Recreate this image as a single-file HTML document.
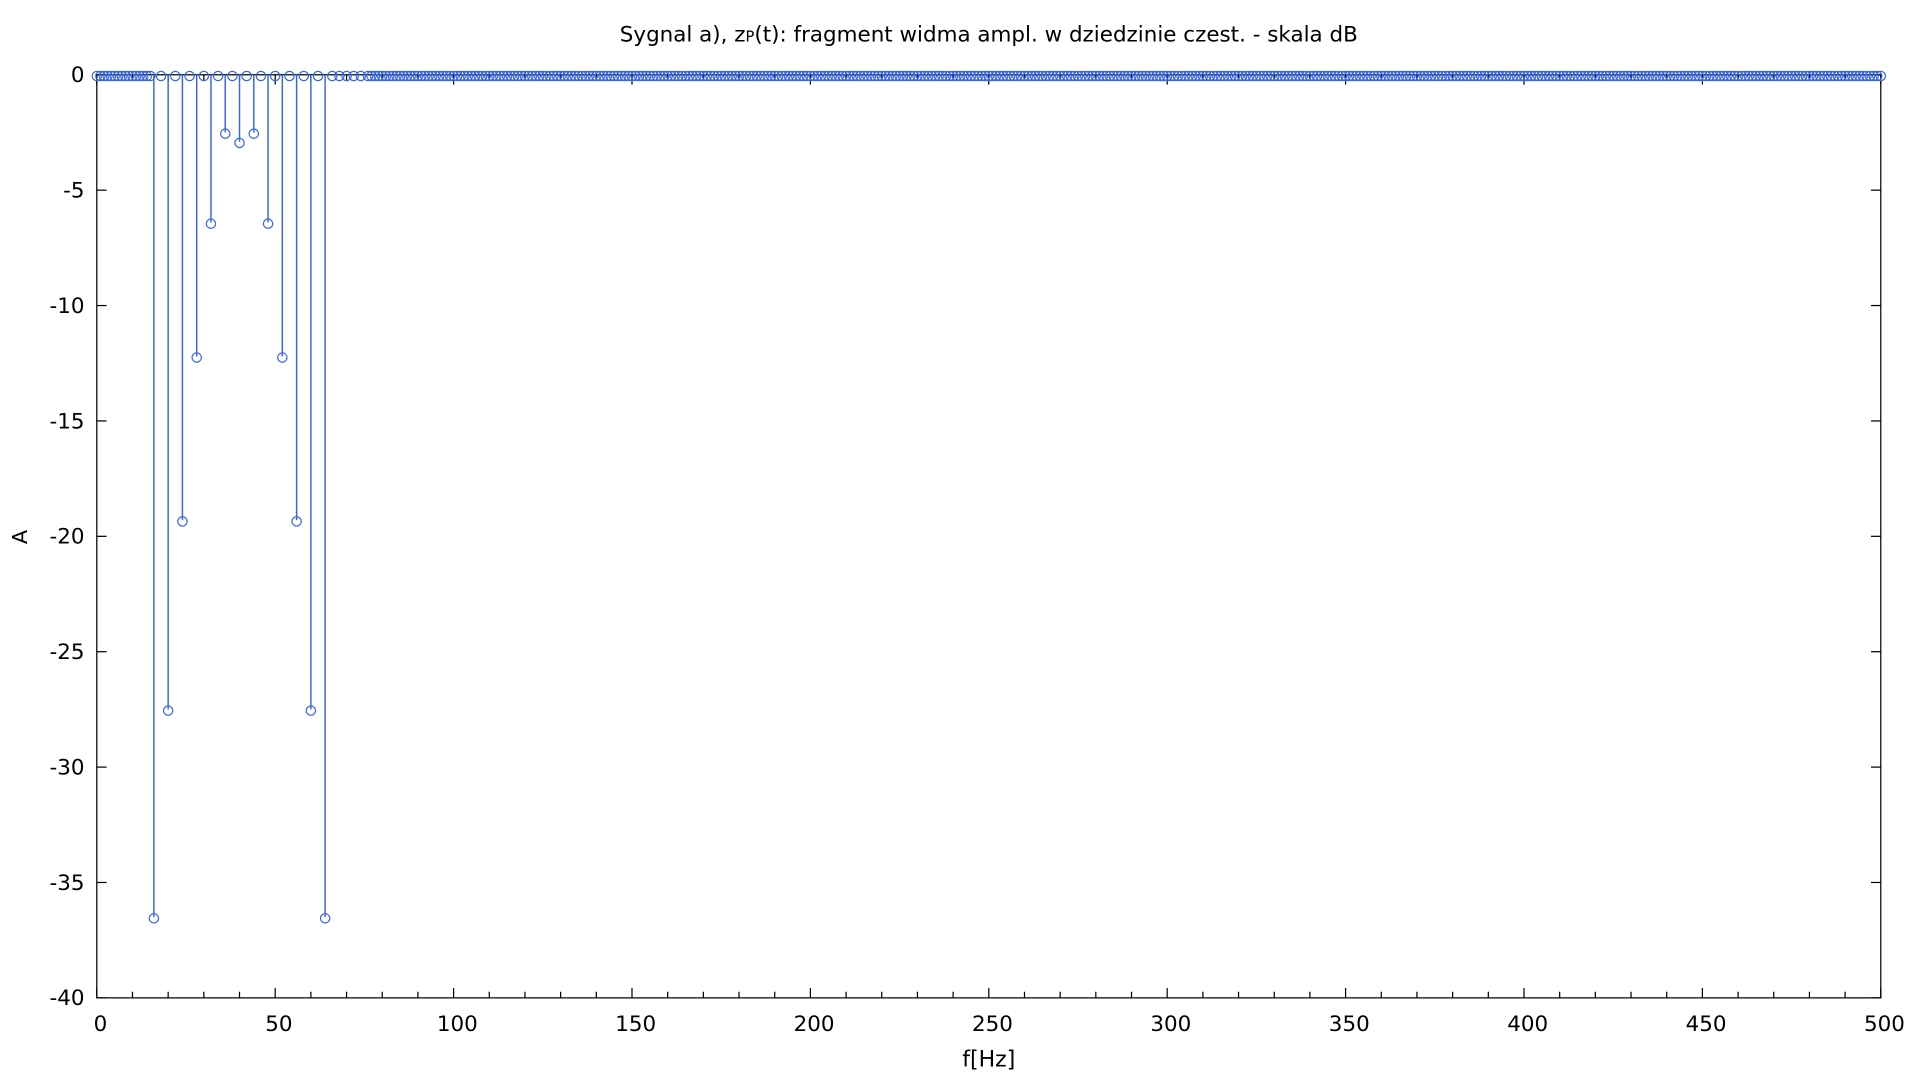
<!DOCTYPE html>
<html><head><meta charset="utf-8"><style>
html,body{margin:0;padding:0;background:#fff;overflow:hidden}
svg{display:block;width:100vw;height:100vh}
text{font-family:"DejaVu Sans","Liberation Sans",sans-serif;fill:#000}
</style></head><body>
<svg id="chart" viewBox="0 0 1567 881" preserveAspectRatio="none" xmlns="http://www.w3.org/2000/svg">
<text x="807" y="34" font-size="17.5" text-anchor="middle">Sygnal a), z<tspan font-size="12">P</tspan>(t): fragment widma ampl. w dziedzinie czest. - skala dB</text>
<g id="axes"></g>
<g id="marks"></g>
<text x="807" y="870" font-size="18" text-anchor="middle">f[Hz]</text>
<text x="22" y="438" font-size="17" text-anchor="middle" transform="rotate(-90 22 438)">A</text>
</svg>
<script>
const xTicks=[0,50,100,150,200,250,300,350,400,450,500];
const yTicks=[0,-5,-10,-15,-20,-25,-30,-35,-40];
const dipFreqs=[16,20,24,28,32,36,40,44,48,52,56,60,64];
const dipValues=[-36.5,-27.5,-19.3,-12.2,-6.4,-2.5,-2.9,-2.5,-6.4,-12.2,-19.3,-27.5,-36.5];
const L=79,R=1535,T=61,B=814;
const X=f=>L+(f-0)/(500-0)*(R-L);
const Y=v=>T+(0-v)/(0-(-40))*(B-T);
const NS='http://www.w3.org/2000/svg';
function mk(tag,attrs,parent){const e=document.createElementNS(NS,tag);for(const k in attrs)e.setAttribute(k,attrs[k]);parent.appendChild(e);return e;}
const ax=document.getElementById('axes'),mg=document.getElementById('marks');
const frame=mk('rect',{x:L,y:T,width:R-L,height:B-T,fill:'none',stroke:'#000','stroke-width':1},ax);


for(let f=0;f<=500;f+=10){const major=f%50===0;const len=major?8:5;
 const t1=mk('line',{x1:X(f),x2:X(f),y1:B,y2:B-len,stroke:'#000'},ax);
 
 
 const t2=mk('line',{x1:X(f),x2:X(f),y1:T,y2:T+len,stroke:'#000'},ax);
 
 }
xTicks.forEach(f=>{const t=mk('text',{x:X(f)+3,y:B+27,'font-size':17.5,'text-anchor':'middle'},ax);t.textContent=f;
 
 });
yTicks.forEach(v=>{
 const a=mk('line',{x1:L,x2:L+8,y1:Y(v),y2:Y(v),stroke:'#000'},ax);
 
 
 const b=mk('line',{x1:R,x2:R-8,y1:Y(v),y2:Y(v),stroke:'#000'},ax);
 
 
 const t=mk('text',{x:L-10,y:Y(v)+6,'font-size':17.5,'text-anchor':'end'},ax);t.textContent=v;
 
 });
const freqs=[],vals=[];
for(let f=0;f<16;f++){freqs.push(f);vals.push(0);}
for(let f=16;f<76;f+=2){freqs.push(f);const i=dipFreqs.indexOf(f);vals.push(i>=0?dipValues[i]:0);}
for(let f=76;f<=500;f++){freqs.push(f);vals.push(0);}
freqs.forEach((f,i)=>{const v=vals[i];
 if(v<0){const s=mk('line',{x1:X(f),x2:X(f),y1:Y(0),y2:Y(v),stroke:'#3a66e0','stroke-width':1.2},mg);
  
  }
 const c=mk('circle',{cx:X(f),cy:Y(v)+1,r:3.8,fill:'none',stroke:'#3a66e0','stroke-width':1},mg);
 
 });
</script>
</body></html>
